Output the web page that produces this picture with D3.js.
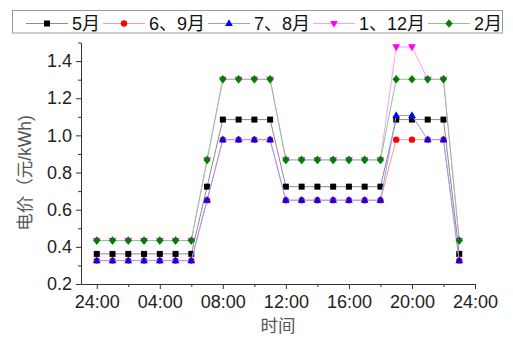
<!DOCTYPE html>
<html>
<head>
<meta charset="utf-8">
<script src="https://cdn.jsdelivr.net/npm/d3@7"></script>
<style>
  html, body { margin: 0; padding: 0; background: #fff; }
  svg { display: block; }
  text { font-family: "Liberation Sans", Arial, "Noto Sans CJK SC", sans-serif; }
</style>
</head>
<body>
<svg id="chart" width="513" height="338"></svg>
<script>
// Hour of day for each price point
const hours = [0, 1, 2, 3, 4, 5, 6, 7, 8, 9, 10, 11, 12, 13, 14, 15, 16, 17, 18, 19, 20, 21, 22, 23];

// Electricity price per hour (yuan/kWh) for each group of months
const priceMay    = [0.362, 0.362, 0.362, 0.362, 0.362, 0.362, 0.362, 0.724, 1.085, 1.085, 1.085, 1.085, 0.724, 0.724, 0.724, 0.724, 0.724, 0.724, 0.724, 1.085, 1.085, 1.085, 1.085, 0.362];
const priceJunSep = [0.326, 0.326, 0.326, 0.326, 0.326, 0.326, 0.326, 0.651, 0.977, 0.977, 0.977, 0.977, 0.651, 0.651, 0.651, 0.651, 0.651, 0.651, 0.651, 0.977, 0.977, 0.977, 0.977, 0.326];
const priceJulAug = [0.326, 0.326, 0.326, 0.326, 0.326, 0.326, 0.326, 0.651, 0.977, 0.977, 0.977, 0.977, 0.651, 0.651, 0.651, 0.651, 0.651, 0.651, 0.651, 1.107, 1.107, 0.977, 0.977, 0.326];
const priceJanDec = [0.434, 0.434, 0.434, 0.434, 0.434, 0.434, 0.434, 0.868, 1.302, 1.302, 1.302, 1.302, 0.868, 0.868, 0.868, 0.868, 0.868, 0.868, 0.868, 1.476, 1.476, 1.302, 1.302, 0.434];
const priceFeb    = [0.434, 0.434, 0.434, 0.434, 0.434, 0.434, 0.434, 0.868, 1.302, 1.302, 1.302, 1.302, 0.868, 0.868, 0.868, 0.868, 0.868, 0.868, 0.868, 1.302, 1.302, 1.302, 1.302, 0.434];

// Series names, in drawing / legend order
const seriesNames = ["5月", "6、9月", "7、8月", "1、12月", "2月"];

// Axis ticks
const xTickValues = [0, 4, 8, 12, 16, 20, 24];
const xTickLabels = ["24:00", "04:00", "08:00", "12:00", "16:00", "20:00", "24:00"];
const xMinorTicks = [2, 6, 10, 14, 18, 22];
const yTickValues = [0.2, 0.4, 0.6, 0.8, 1.0, 1.2, 1.4];
const yMinorTicks = [0.3, 0.5, 0.7, 0.9, 1.1, 1.3, 1.5];

const xTitle = "时间";
const yTitle = "电价（元/kWh)";

// ---- styling ----
const styles = [
  { marker: "square",   fill: "#000000", line: "#8c8c8c" },
  { marker: "circle",   fill: "#ff0000", line: "#ff9a9a" },
  { marker: "triUp",    fill: "#0000ff", line: "#9a9aff" },
  { marker: "triDown",  fill: "#ff00ff", line: "#ff9aff" },
  { marker: "diamond",  fill: "#008000", line: "#8cc88c" }
];
const seriesValues = [priceMay, priceJunSep, priceJulAug, priceJanDec, priceFeb];

const svg = d3.select("#chart");

const x = d3.scaleLinear().domain([-1, 24]).range([81, 475]);
const y = d3.scaleLinear().domain([0.2, 1.5]).range([284, 42.5]);

function markerPath(kind) {
  const p = d3.path();
  if (kind === "square") {
    const s = 3; p.rect(-s, -s, 2 * s, 2 * s);
  } else if (kind === "circle") {
    p.arc(0, 0, 3.2, 0, 2 * Math.PI);
  } else if (kind === "triUp") {
    p.moveTo(0, -4.2); p.lineTo(3.9, 2.6); p.lineTo(-3.9, 2.6); p.closePath();
  } else if (kind === "triDown") {
    p.moveTo(0, 4.2); p.lineTo(3.9, -2.6); p.lineTo(-3.9, -2.6); p.closePath();
  } else if (kind === "diamond") {
    p.moveTo(0, -4.3); p.lineTo(3.7, 0); p.lineTo(0, 4.3); p.lineTo(-3.7, 0); p.closePath();
  }
  return p.toString();
}

// ---- axes ----
const axisColor = "#333";
const tickFont = "18px";

const gx = svg.append("g").attr("transform", "translate(0,284)")
  .call(d3.axisBottom(x).tickValues(xTickValues)
    .tickFormat((d, i) => xTickLabels[i]).tickSize(5).tickSizeOuter(0).tickPadding(6));
svg.append("g").attr("transform", "translate(0,284)")
  .call(d3.axisBottom(x).tickValues(xMinorTicks).tickFormat("").tickSize(3).tickSizeOuter(0))
  .call(g => g.select(".domain").remove());

const gy = svg.append("g").attr("transform", "translate(81,0)")
  .call(d3.axisLeft(y).tickValues(yTickValues)
    .tickFormat(d3.format(".1f")).tickSize(5).tickSizeOuter(0).tickPadding(4));
svg.append("g").attr("transform", "translate(81,0)")
  .call(d3.axisLeft(y).tickValues(yMinorTicks).tickFormat("").tickSize(3).tickSizeOuter(0))
  .call(g => g.select(".domain").remove());

svg.selectAll(".domain, .tick line").attr("stroke", axisColor);
svg.selectAll(".tick text").attr("fill", "#222").style("font-size", tickFont)
  .style("font-family", "'Liberation Sans', Arial, sans-serif");

// axis titles
svg.append("text")
  .attr("x", 278).attr("y", 326)
  .attr("text-anchor", "middle").attr("dominant-baseline", "central")
  .attr("fill", "#555").style("font-size", "17.5px")
  .text(xTitle);

svg.append("text")
  .attr("transform", "translate(25,173) rotate(-90)")
  .attr("text-anchor", "middle").attr("dominant-baseline", "central")
  .attr("fill", "#555").style("font-size", "17.5px")
  .text(yTitle);

// ---- series ----
const line = d3.line().x((d, i) => x(hours[i])).y(d => y(d));

seriesValues.forEach((vals, k) => {
  const st = styles[k];
  const g = svg.append("g");
  g.append("path")
    .attr("d", line(vals))
    .attr("fill", "none")
    .attr("stroke", st.line)
    .attr("stroke-width", 1);
  g.selectAll("path.m").data(vals).join("path")
    .attr("class", "m")
    .attr("d", markerPath(st.marker))
    .attr("transform", (d, i) => `translate(${x(hours[i])},${y(d)})`)
    .attr("fill", st.fill);
});

// ---- legend ----
const legend = svg.append("g");
legend.append("rect")
  .attr("x", 12.5).attr("y", 10.5).attr("width", 490).attr("height", 22.5)
  .attr("fill", "#fff").attr("stroke", "#9a9a9a").attr("stroke-width", 1);

const legendStarts = [26, 103, 208, 313, 428];
const legendY = 23.5;
seriesNames.forEach((name, k) => {
  const st = styles[k];
  const x0 = legendStarts[k];
  legend.append("line")
    .attr("x1", x0).attr("x2", x0 + 42)
    .attr("y1", legendY).attr("y2", legendY)
    .attr("stroke", st.line).attr("stroke-width", 1);
  legend.append("path")
    .attr("d", markerPath(st.marker))
    .attr("transform", `translate(${x0 + 21},${legendY})`)
    .attr("fill", st.fill);
  legend.append("text")
    .attr("x", x0 + 46).attr("y", 29.5)
    .attr("fill", "#111").style("font-size", "18px")
    .text(name);
});
</script>
</body>
</html>
